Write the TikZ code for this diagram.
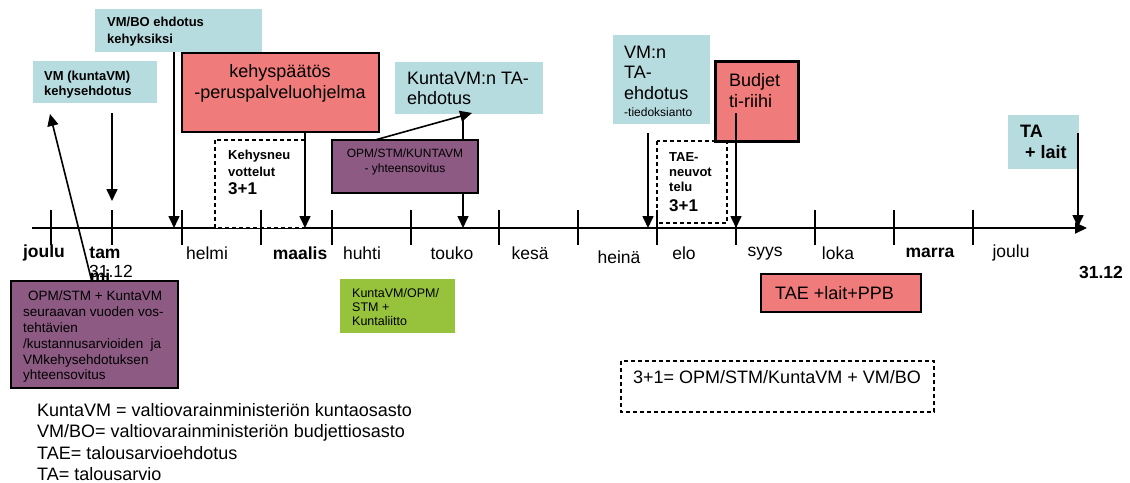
\documentclass[tikz,border=0pt]{standalone}
\usepackage{fontspec}
\setmainfont{Liberation Sans}
\usetikzlibrary{arrows.meta}
\definecolor{lblue}{HTML}{B7DCDF}
\definecolor{salmon}{HTML}{F07B7B}
\definecolor{plum}{HTML}{8C5A82}
\definecolor{lgreen}{HTML}{97C23C}
\newcommand{\fs}[2]{\fontsize{#1}{#2}\selectfont}
\tikzset{
  bluebox/.style={fill=lblue, draw=none},
  redbox/.style={fill=salmon, draw=black, line width=1.3pt},
  plumbox/.style={fill=plum, draw=black, line width=1.3pt},
  greenbox/.style={fill=lgreen, draw=none},
  dashbox/.style={draw=black, dashed, dash pattern=on 4pt off 3pt, line width=1.2pt},
  txt/.style={inner sep=0pt, anchor=north west, align=left},
  ctxt/.style={inner sep=0pt, anchor=north, align=center},
  wtxt/.style={inner sep=0pt, anchor=west},
  mon/.style={inner sep=0pt, font=\fs{17.5}{20}},
  arr/.style={line width=1.6pt, -{Triangle[length=12pt,width=11pt]}},
  tick/.style={line width=1.3pt},
}
\begin{document}
\begin{tikzpicture}[x=1pt,y=-1pt]
\useasboundingbox (0,0) rectangle (1130,482);
% axis
\coordinate (axL) at (32,228);
\coordinate (axR) at (1087,228);
\draw[line width=1.8pt, -{Triangle[length=12pt,width=11pt]}] (axL) -- (axR);
% dashed boxes on the axis
\draw[dashbox, fill=white] (215,140) rectangle (305,228);
\draw[dashbox, fill=white] (657,141) rectangle (727,223);
% ticks
\foreach \t in {51,112,182,261,332,411,499,578,657,736,815,894,973}
  \draw[tick] (\t,210) -- (\t,245);
% month labels
\node[mon, font=\bfseries\fs{17.5}{20}] (m1) at (44,253) {joulu};
\node[mon, font=\bfseries\fs{17.5}{20}] (m2) at (105,253) {tam};
\node[mon, font=\bfseries\fs{17.5}{20}] (m2b) at (100,276) {mi};
\node[mon] (d1) at (111,271) {31.12};
\node[mon] (m3) at (207,253) {helmi};
\node[mon, font=\bfseries\fs{17.5}{20}] (m4) at (300,253) {maalis};
\node[mon] (m5) at (362,253) {huhti};
\node[mon] (m6) at (452,253) {touko};
\node[mon] (m7) at (530,253) {kesä};
\node[mon] (m8) at (619,257) {heinä};
\node[mon] (m9) at (684,253) {elo};
\node[mon] (m10) at (765,254) {syys};
\node[mon] (m11) at (838,253) {loka};
\node[mon, font=\bfseries\fs{17.5}{20}] (m12) at (930,253) {marra};
\node[mon] (m13) at (1011,253) {joulu};
\node[inner sep=0pt, font=\bfseries\fs{17.5}{20}] (d2) at (1101,272) {31.12};
% top boxes
\path[bluebox] (95,9) rectangle (262,52);
\node[txt, font=\bfseries\fs{13}{16.5}] (tvmbo) at (107,17) {VM/BO ehdotus\\kehyksiksi};
\path[bluebox] (33,61) rectangle (157,103);
\node[txt, font=\bfseries\fs{13}{14.5}] (tvmk) at (44,71) {VM (kuntaVM)\\kehysehdotus};
\draw[redbox] (182,53) rectangle (379,132);
\node[ctxt, font=\fs{18}{21}] (tkehys) at (280,64.5) {kehyspäätös\\-peruspalveluohjelma};
\node[txt, font=\bfseries\fs{13}{17}] (tneu) at (228,149.5) {Kehysneu\\vottelut};
\node[wtxt, font=\bfseries\fs{17}{20}] (tneu2) at (228,189) {3+1};
\draw[plumbox] (332,140) rectangle (478,193);
\node[ctxt, font=\fs{12}{15}] (topm) at (405,148.5) {OPM/STM/KUNTAVM\\- yhteensovitus};
\path[bluebox] (395,62) rectangle (543,114);
\node[txt, font=\fs{18}{20}] (tkta) at (407,71.5) {KuntaVM:n TA-\\ehdotus};
\path[bluebox] (613,35) rectangle (710,124);
\node[txt, font=\fs{18}{20.5}] (tvmta) at (624,45.5) {VM:n\\TA-\\ehdotus};
\node[wtxt, font=\fs{12}{14}] (tvmta2) at (624,112) {-tiedoksianto};
\node[txt, font=\bfseries\fs{13}{15}] (ttae) at (669,152.5) {TAE-\\neuvot\\telu};
\node[wtxt, font=\bfseries\fs{17}{20}] (ttae2) at (669,206) {3+1};
\draw[fill=salmon, draw=black, line width=3pt] (715,61) rectangle (798,141);
\node[txt, font=\fs{18}{21}] (tbud) at (729,73.5) {Budjet\\ti-riihi};
\path[bluebox] (1008,115) rectangle (1079,169);
\node[txt, font=\bfseries\fs{18}{21}] (tta) at (1020,124.5) {TA\\\hspace*{5pt}+ lait};
% bottom boxes
\draw[plumbox] (11,281) rectangle (178,388);
\node[txt, font=\fs{13.5}{15.8}] (tbot) at (23,291) {\hspace*{5pt}OPM/STM + KuntaVM\\seuraavan vuoden vos-\\tehtävien\\/kustannusarvioiden\ \ ja\\VMkehysehdotuksen\\yhteensovitus};
\path[greenbox] (340,279) rectangle (455,333);
\node[txt, font=\fs{12.5}{14}] (tgreen) at (352,288.5) {KuntaVM/OPM/\\STM +\\Kuntaliitto};
\draw[redbox] (761,274) rectangle (921,312);
\node[wtxt, font=\fs{18}{20}] (ttaep) at (775,293) {TAE +lait+PPB};
\draw[dashbox] (621,361) rectangle (934,412);
\node[wtxt, font=\fs{18}{20}] (tleg) at (633,377) {3+1= OPM/STM/KuntaVM + VM/BO};
\node[txt, font=\fs{18}{21.2}] (tabbr) at (37,403.5) {KuntaVM = valtiovarainministeriön kuntaosasto\\VM/BO= valtiovarainministeriön budjettiosasto\\TAE= talousarvioehdotus\\TA= talousarvio};
% arrow coordinates
\coordinate (a1s) at (174,52);   \coordinate (a1e) at (174,228);
\coordinate (a2s) at (112,113);  \coordinate (a2e) at (112,201);
\coordinate (a3s) at (305,132);  \coordinate (a3e) at (305,228);
\coordinate (a4s) at (463,193);  \coordinate (a4e) at (463,228);
\coordinate (a5s) at (648,133);  \coordinate (a5e) at (648,228);
\coordinate (a6s) at (736,113);  \coordinate (a6e) at (736,228);
\coordinate (a7s) at (1078,133); \coordinate (a7e) at (1078,227);
\coordinate (a8s) at (92,282);   \coordinate (a8e) at (50,114);
\coordinate (a9s) at (375,140);  \coordinate (a9e) at (472,113);
\coordinate (a10s) at (463,140); \coordinate (a10e) at (463,117);
\draw[arr] (a1s) -- (a1e);
\draw[arr] (a2s) -- (a2e);
\draw[arr] (a3s) -- (a3e);
\draw[arr] (a4s) -- (a4e);
\draw[arr] (a5s) -- (a5e);
\draw[arr] (a6s) -- (a6e);
\draw[arr] (a7s) -- (a7e);
\draw[arr] (a8s) -- (a8e);
\draw[arr] (a9s) -- (a9e);
\draw[line width=1.6pt] (a10s) -- (a10e);
\end{tikzpicture}
\end{document}
